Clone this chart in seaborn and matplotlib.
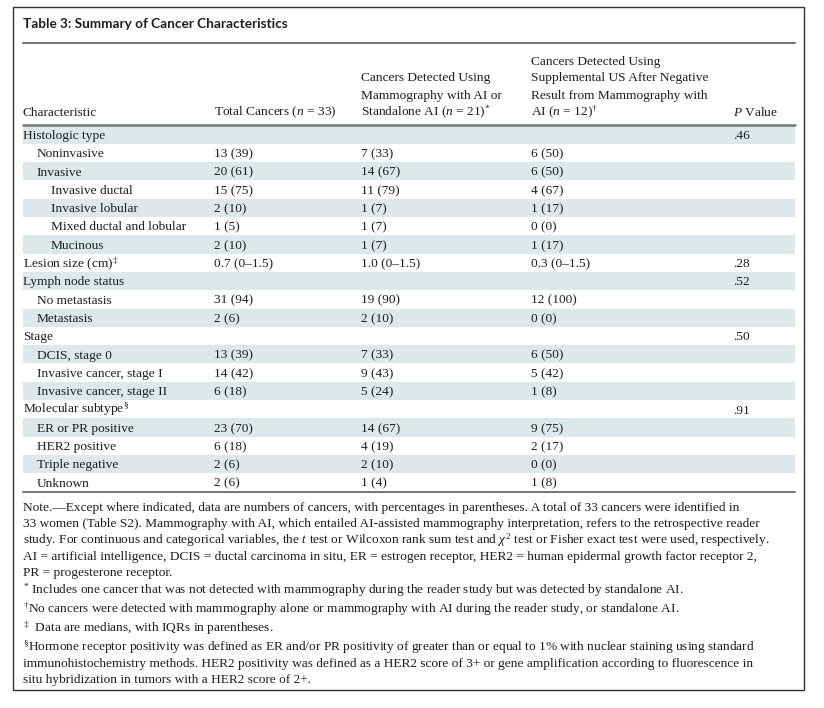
import matplotlib
matplotlib.use("Agg")
import matplotlib.pyplot as plt
import seaborn as sns

# table content
title = "Table 3: Summary of Cancer Characteristics"
characteristics = ["Histologic type", "Noninvasive", "Invasive", "Invasive ductal", "Invasive lobular",
                   "Mixed ductal and lobular", "Mucinous", "Lesion size (cm)$^{‡}$", "Lymph node status",
                   "No metastasis", "Metastasis", "Stage", "DCIS, stage 0", "Invasive cancer, stage I",
                   "Invasive cancer, stage II", "Molecular subtype$^{§}$", "ER or PR positive", "HER2 positive",
                   "Triple negative", "Unknown"]
levels = [0, 1, 1, 2, 2, 2, 2, 0, 0, 1, 1, 0, 1, 1, 1, 0, 1, 1, 1, 1]
total = ["", "13 (39)", "20 (61)", "15 (75)", "2 (10)", "1 (5)", "2 (10)", "0.7 (0–1.5)", "",
         "31 (94)", "2 (6)", "", "13 (39)", "14 (42)", "6 (18)", "", "23 (70)", "6 (18)", "2 (6)", "2 (6)"]
mamm_ai = ["", "7 (33)", "14 (67)", "11 (79)", "1 (7)", "1 (7)", "1 (7)", "1.0 (0–1.5)", "",
           "19 (90)", "2 (10)", "", "7 (33)", "9 (43)", "5 (24)", "", "14 (67)", "4 (19)", "2 (10)", "1 (4)"]
supp_us = ["", "6 (50)", "6 (50)", "4 (67)", "1 (17)", "0 (0)", "1 (17)", "0.3 (0–1.5)", "",
           "12 (100)", "0 (0)", "", "6 (50)", "5 (42)", "1 (8)", "", "9 (75)", "2 (17)", "0 (0)", "1 (8)"]
p_values = [".46", "", "", "", "", "", "", ".28", ".52", "", "", ".50", "", "", "", ".91", "", "", "", ""]

headers = [
    ["Characteristic"],
    ["Total Cancers ($\\mathit{n}$ = 33)"],
    ["Cancers Detected Using", "Mammography with AI or", "Standalone AI ($\\mathit{n}$ = 21)$^{*}$"],
    ["Cancers Detected Using", "Supplemental US After Negative", "Result from Mammography with",
     "AI ($\\mathit{n}$ = 12)$^{†}$"],
    ["$\\mathit{P}$ Value"],
]

notes = [
    "Note.—Except where indicated, data are numbers of cancers, with percentages in parentheses. A total of 33 cancers were identified in",
    "33 women (Table S2). Mammography with AI, which entailed AI-assisted mammography interpretation, refers to the retrospective reader",
    "study. For continuous and categorical variables, the $\\mathit{t}$ test or Wilcoxon rank sum test and $\\chi^2$ test or Fisher exact test were used, respectively.",
    "AI = artificial intelligence, DCIS = ductal carcinoma in situ, ER = estrogen receptor, HER2 = human epidermal growth factor receptor 2,",
    "PR = progesterone receptor.",
]
footnotes = [
    ["$^{*}$ Includes one cancer that was not detected with mammography during the reader study but was detected by standalone AI."],
    ["$^{†}$No cancers were detected with mammography alone or mammography with AI during the reader study, or standalone AI."],
    ["$^{‡}$  Data are medians, with IQRs in parentheses."],
    ["$^{§}$Hormone receptor positivity was defined as ER and/or PR positivity of greater than or equal to 1% with nuclear staining using standard",
     "immunohistochemistry methods. HER2 positivity was defined as a HER2 score of 3+ or gene amplification according to fluorescence in",
     "situ hybridization in tumors with a HER2 score of 2+."],
]

sns.set_theme(style="white")
plt.rcParams['font.family'] = ['Liberation Serif', 'DejaVu Serif']
plt.rcParams['mathtext.fontset'] = 'custom'
plt.rcParams['mathtext.rm'] = 'Liberation Serif'
plt.rcParams['mathtext.it'] = 'Liberation Serif:italic'
plt.rcParams['mathtext.bf'] = 'Liberation Serif:bold'

fig = plt.figure(figsize=(8.24, 7.08), dpi=100)
ax = fig.add_axes([0, 0, 1, 1])
ax.set_xlim(0, 824)
ax.set_ylim(708, 0)
ax.axis("off")

fs = 9.6
txt = "#1e1e1e"
left, right = 23, 795
col_x = [23, 214, 361, 531, 733]
indent = 14
row_top = 125.5
row_h = 18.3

# outer box and title
ax.add_patch(plt.Rectangle((13, 7), 791, 683, fill=False, ec="#333333", lw=1.0))
ax.text(left, 28.5, title, fontsize=9.8, fontweight="bold", family="Lato", color=txt, va="baseline")
ax.plot([left, right], [43, 43], color="#777777", lw=1.5)

# header
for x, lines in zip(col_x, headers):
    n = len(lines)
    for i, line in enumerate(lines):
        ax.text(x, 115.5 - 17 * (n - 1 - i), line, fontsize=fs, color=txt, va="baseline")
ax.plot([left, right], [124.5, 124.5], color="#777777", lw=1.8)

# body rows
for i, name in enumerate(characteristics):
    top = row_top + i * row_h
    if i % 2 == 0:
        ax.axhspan(top, top + row_h, xmin=left / 824, xmax=right / 824, color="#dde8eb", lw=0)
    base = top + 13.5
    ax.text(col_x[0] + indent * levels[i], base, name, fontsize=fs, color=txt, va="baseline")
    for x, col in zip(col_x[1:], [total, mamm_ai, supp_us, p_values]):
        ax.text(x, base, col[i], fontsize=fs, color=txt, va="baseline")
bottom = row_top + len(characteristics) * row_h
ax.plot([left, right], [bottom, bottom], color="#777777", lw=1.5)

# notes
y = 511
for line in notes:
    ax.text(left, y, line, fontsize=fs, color=txt, va="baseline")
    y += 16.3
y = 594
for block in footnotes:
    for line in block:
        ax.text(left, y, line, fontsize=fs, color=txt, va="baseline")
        y += 16
    y += 3

fig.savefig("out.png", dpi=100)
